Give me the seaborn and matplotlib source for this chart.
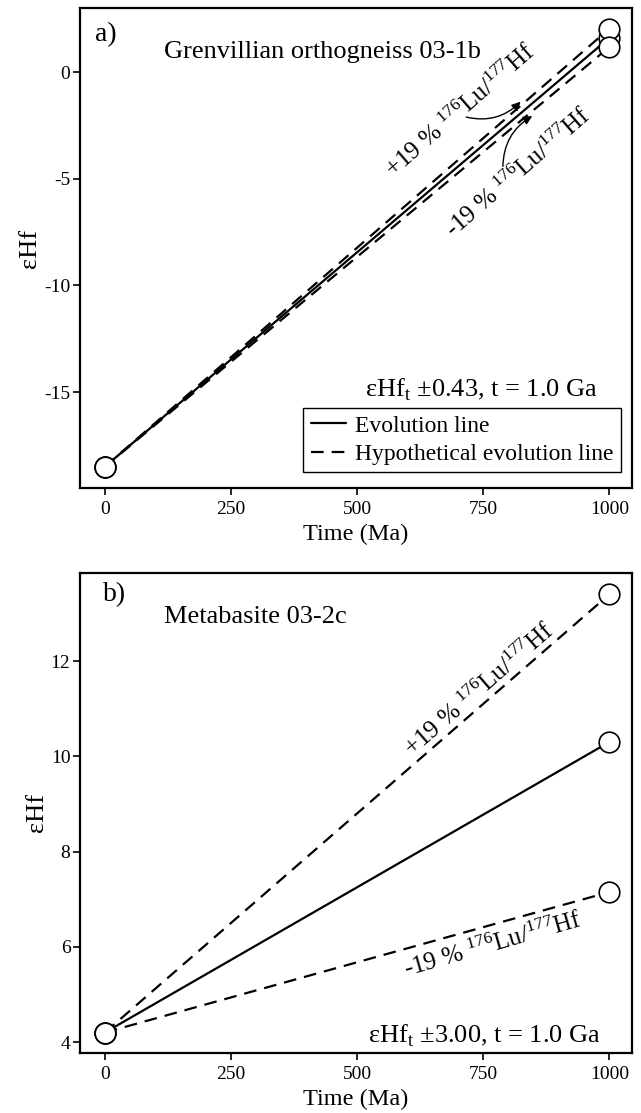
import pandas as pd
import matplotlib.pyplot as plt
import seaborn as sns
from matplotlib.lines import Line2D

# eHf evolution data
time = [0, 1000]
a_start = -18.5
a_evolution_end = 1.6
a_plus_end = 2.03
a_minus_end = 1.17
b_start = 4.2
b_evolution_end = 10.3
b_plus_end = 13.4
b_minus_end = 7.15

sns.set_style("ticks")
plt.rcParams['font.family'] = ['Liberation Serif', 'DejaVu Serif']
plt.rcParams['mathtext.fontset'] = 'custom'
plt.rcParams['mathtext.rm'] = 'Liberation Serif'
plt.rcParams['axes.unicode_minus'] = False
for key in ['text.color', 'axes.labelcolor', 'xtick.color', 'ytick.color', 'axes.edgecolor']:
    plt.rcParams[key] = 'black'
plt.rcParams['axes.linewidth'] = 1.6
plt.rcParams['xtick.major.width'] = 1.2
plt.rcParams['ytick.major.width'] = 1.2
plt.rcParams['xtick.major.size'] = 5
plt.rcParams['ytick.major.size'] = 5

DASH = (5.7, 3.6)
LU = r'$\mathregular{^{176}}$Lu/$\mathregular{^{177}}$Hf'


def make_df(start, evol, plus, minus):
    rows = []
    for name, kind, end in [("evol", "Evolution", evol),
                            ("plus", "Hypothetical", plus),
                            ("minus", "Hypothetical", minus)]:
        for t, v in zip(time, [start, end]):
            rows.append({"time": t, "eHf": v, "line": name, "kind": kind})
    return pd.DataFrame(rows)


def draw_panel(ax, df):
    sns.lineplot(data=df, x="time", y="eHf", units="line", estimator=None,
                 style="kind", dashes={"Evolution": "", "Hypothetical": DASH},
                 color="black", linewidth=1.6, legend=False, ax=ax, sort=False)
    sns.scatterplot(data=df, x="time", y="eHf", s=220, facecolor="white",
                    edgecolor="black", linewidth=1.2, zorder=3, ax=ax, legend=False)
    ax.set_xlim(-49, 1045)
    ax.set_xticks([0, 250, 500, 750, 1000])
    ax.set_xlabel("Time (Ma)", fontsize=17.5, labelpad=4)
    ax.set_ylabel("εHf", fontsize=19, labelpad=2)
    ax.tick_params(labelsize=14)
    ax.tick_params(axis="x", pad=4.5)
    ax.tick_params(axis="y", pad=2)


fig = plt.figure(figsize=(6.41, 11.13), dpi=100)
ax1 = fig.add_axes([0.125, 0.5615, 0.861, 0.4313])
ax2 = fig.add_axes([0.125, 0.0539, 0.861, 0.4313])

# Panel a
df_a = make_df(a_start, a_evolution_end, a_plus_end, a_minus_end)
draw_panel(ax1, df_a)
ax1.set_ylim(-19.5, 3.0)
ax1.set_yticks([0, -5, -10, -15])
ax1.text(0.027, 0.944, "a)", transform=ax1.transAxes, fontsize=20, va="center")
ax1.text(0.152, 0.908, "Grenvillian orthogneiss 03-1b", transform=ax1.transAxes,
         fontsize=19, va="center")
ax1.text(706, -1.8, "+19 % " + LU, rotation=41, rotation_mode="anchor",
         ha="center", va="center", fontsize=18)
ax1.text(820, -4.7, "-19 % " + LU, rotation=41, rotation_mode="anchor",
         ha="center", va="center", fontsize=18)
ax1.annotate("", xy=(828, -1.3), xytext=(711, -2.08),
             arrowprops=dict(arrowstyle="-|>", connectionstyle="arc3,rad=0.3",
                             color="black", lw=1, mutation_scale=13))
ax1.annotate("", xy=(852, -2.0), xytext=(789, -4.55),
             arrowprops=dict(arrowstyle="-|>", connectionstyle="arc3,rad=-0.3",
                             color="black", lw=1, mutation_scale=13))
ax1.text(0.937, 0.204, r"εHf$_{\mathregular{t}}$ ±0.43, t = 1.0 Ga",
         transform=ax1.transAxes, ha="right", va="center", fontsize=19)
handles = [Line2D([], [], color="black", lw=1.6),
           Line2D([], [], color="black", lw=1.6, dashes=DASH)]
leg = ax1.legend(handles, ["Evolution line", "Hypothetical evolution line"],
                 loc="lower right", bbox_to_anchor=(0.98, 0.033), fontsize=17,
                 frameon=True, fancybox=False, edgecolor="black", framealpha=1,
                 handlelength=1.5, borderpad=0.3, labelspacing=0.3,
                 handletextpad=0.4, borderaxespad=0)
leg.get_frame().set_linewidth(1.0)

# Panel b
df_b = make_df(b_start, b_evolution_end, b_plus_end, b_minus_end)
draw_panel(ax2, df_b)
ax2.set_ylim(3.77, 13.85)
ax2.set_yticks([4, 6, 8, 10, 12])
ax2.text(0.042, 0.955, "b)", transform=ax2.transAxes, fontsize=20, va="center")
ax2.text(0.152, 0.908, "Metabasite 03-2c", transform=ax2.transAxes,
         fontsize=19, va="center")
ax2.text(742, 11.4, "+19 % " + LU, rotation=41, rotation_mode="anchor",
         ha="center", va="center", fontsize=18)
ax2.text(770, 6.05, "-19 % " + LU, rotation=16, rotation_mode="anchor",
         ha="center", va="center", fontsize=18)
ax2.text(0.943, 0.035, r"εHf$_{\mathregular{t}}$ ±3.00, t = 1.0 Ga",
         transform=ax2.transAxes, ha="right", va="center", fontsize=19)

fig.savefig("out.png", dpi=100)
